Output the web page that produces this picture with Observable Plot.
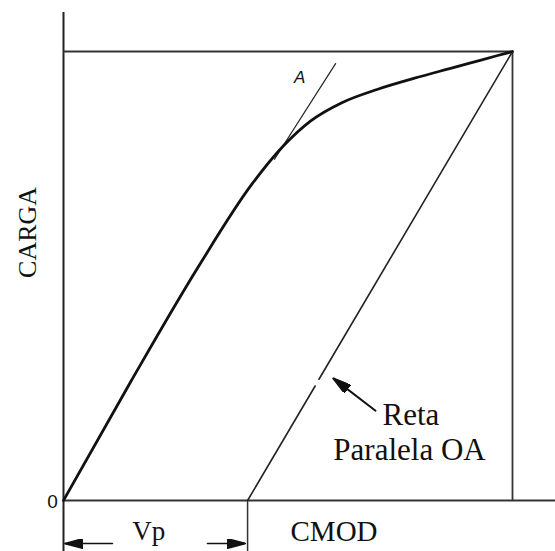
<!DOCTYPE html>
<html><head><meta charset="utf-8">
<script src="https://cdn.jsdelivr.net/npm/d3@7"></script>
<script src="https://cdn.jsdelivr.net/npm/@observablehq/plot@0.6"></script>
<style>html,body{margin:0;padding:0;background:#fff;overflow:hidden;}</style>
</head><body><div id="chart"></div>
<script>
// Load–CMOD curve (normalised: max load = 1, CMOD at max load = 1)
const curveCMOD  = [0, 0.150, 0.300, 0.420, 0.490, 0.550, 0.620, 0.700, 0.780, 0.860, 0.930, 1.000];
const curveCarga = [0, 0.265, 0.520, 0.705, 0.790, 0.845, 0.886, 0.916, 0.940, 0.962, 0.981, 1.000];
// tangent OA (upper, visible portion)
const tangentCMOD  = [0.470, 0.606];
const tangentCarga = [0.760, 0.973];
// line parallel to OA through max point (two pieces, gap where arrow points)
const parallelCMOD  = [[0.410, 0.5605], [0.569, 1.000]];
const parallelCarga = [[0.000, 0.255], [0.270, 1.000]];
// frame: max load and CMOD at max
const maxCarga = 1, maxCMOD = 1;
const Vp = 0.410;
// scale extents and axis-line extents
const xMin = -0.1403, xMax = 1.0958, yMin = -0.1136, yMax = 1.1136;
const yAxisTop = 1.0869;
// dimension arrows for Vp
const dimY = -0.0958;
const dimArrows = [
  {x1: 0.109, x2: 0.003},
  {x1: 0.3207, x2: 0.405}
];
// annotation arrow "Reta Paralela OA"
const noteArrow = {x1: 0.695, y1: 0.200, x2: 0.601, y2: 0.272};
// labels
const serifLabels = [
  {text: "Vp", x: 0.190, y: -0.0869, anchor: "middle", size: 27},
  {text: "CMOD", x: 0.5056, y: -0.0913, anchor: "start", size: 29},
  {text: "Reta", x: 0.7105, y: 0.169, anchor: "start", size: 31},
  {text: "Paralela OA", x: 0.601, y: 0.0913, anchor: "start", size: 31}
];
const yLabel = {text: "CARGA", x: -0.080, y: 0.597};
const originLabel = {text: "0", x: -0.0245, y: -0.004};
const pointLabel = {text: "A", x: 0.526, y: 0.941};

const curve = curveCMOD.map((x, i) => ({x, y: curveCarga[i]}));
const tangent = tangentCMOD.map((x, i) => ({x, y: tangentCarga[i]}));
const parallels = parallelCMOD.map((xs, k) => xs.map((x, i) => ({x, y: parallelCarga[k][i], k})));

function filledHead(color, context) {
  const doc = (context && context.document) || document;
  const ns = "http://www.w3.org/2000/svg";
  const m = doc.createElementNS(ns, "marker");
  m.setAttribute("viewBox", "-18 -5 18 10");
  m.setAttribute("markerWidth", 18);
  m.setAttribute("markerHeight", 10);
  m.setAttribute("markerUnits", "userSpaceOnUse");
  m.setAttribute("orient", "auto");
  m.setAttribute("refX", 0);
  m.setAttribute("refY", 0);
  const p = doc.createElementNS(ns, "path");
  p.setAttribute("d", "M0,0L-18,-4.8L-18,4.8Z");
  p.setAttribute("fill", color && color !== "none" ? color : "#111");
  m.appendChild(p);
  return m;
}

function build(marker) {
  const frameColor = "#333";
  return Plot.plot({
    width: 555, height: 551,
    marginLeft: 0, marginRight: 0, marginTop: 0, marginBottom: 0,
    x: {domain: [xMin, xMax], axis: null},
    y: {domain: [yMin, yMax], axis: null},
    style: {background: "#fff"},
    marks: [
      // axes
      Plot.ruleX([0], {y1: yMin, y2: yAxisTop, stroke: "#222", strokeWidth: 2}),
      Plot.ruleY([0], {x1: 0, x2: xMax, stroke: "#333", strokeWidth: 1.8}),
      // frame at max
      Plot.ruleY([maxCarga], {x1: 0, x2: maxCMOD, stroke: frameColor, strokeWidth: 1.8}),
      Plot.ruleX([maxCMOD], {y1: 0, y2: maxCarga, stroke: frameColor, strokeWidth: 1.8}),
      // Vp tick
      Plot.ruleX([Vp], {y1: yMin, y2: 0, stroke: "#333", strokeWidth: 1.5}),
      // parallel line
      ...parallels.map(seg => Plot.line(seg, {x: "x", y: "y", stroke: "#222", strokeWidth: 1.6})),
      // tangent OA
      Plot.line(tangent, {x: "x", y: "y", stroke: "#222", strokeWidth: 1.2}),
      // load curve
      Plot.line(curve, {x: "x", y: "y", curve: "monotone-x", stroke: "#111", strokeWidth: 2.8}),
      // dimension arrows
      ...dimArrows.map(a => Plot.line([{x: a.x1, y: dimY}, {x: a.x2, y: dimY}],
        {x: "x", y: "y", stroke: "#111", strokeWidth: 1.6, markerEnd: marker})),
      // annotation arrow
      Plot.line([{x: noteArrow.x1, y: noteArrow.y1}, {x: noteArrow.x2, y: noteArrow.y2}],
        {x: "x", y: "y", stroke: "#111", strokeWidth: 2, markerEnd: marker}),
      // labels
      ...serifLabels.map(l => Plot.text([l], {x: "x", y: "y", text: "text", textAnchor: l.anchor,
        lineAnchor: "bottom", fontFamily: "Liberation Serif", fontSize: l.size, fill: "#111"})),
      Plot.text([yLabel], {x: "x", y: "y", text: "text", rotate: -90, fontFamily: "Liberation Serif",
        fontSize: 26, fill: "#111"}),
      Plot.text([originLabel], {x: "x", y: "y", text: "text", fontFamily: "Liberation Sans",
        fontSize: 19, fill: "#111"}),
      Plot.text([pointLabel], {x: "x", y: "y", text: "text", fontFamily: "Liberation Sans",
        fontStyle: "italic", fontSize: 17, fill: "#111"})
    ]
  });
}

let chart;
try { chart = build(filledHead); } catch (e) { chart = build("arrow"); }
document.getElementById("chart").appendChild(chart);
</script>
</body></html>
